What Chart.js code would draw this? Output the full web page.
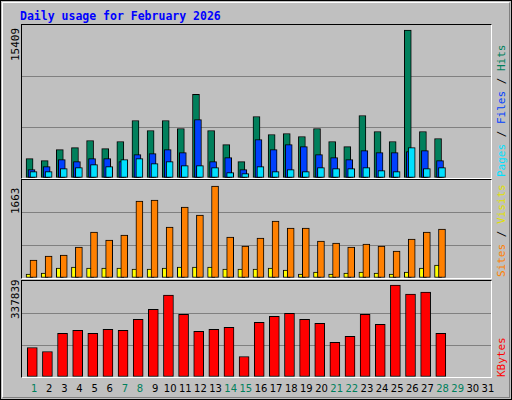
<!DOCTYPE html>
<html>
<head>
<meta charset="utf-8">
<script src="https://cdn.jsdelivr.net/npm/chart.js@4"></script>
<style>
  body { margin: 0; background: #fff; }
  #frame { position: absolute; left: 0; top: 0; width: 510px; height: 398px; background: #c0c0c0;
    border: 1px solid #000; font-family: "DejaVu Sans Mono", monospace; overflow: hidden; }
  #inner { position: absolute; left: 1px; top: 1px; width: 506px; height: 394px;
    border-top: 1px solid #fff; border-left: 1px solid #fff; border-right: 1px solid #808080; border-bottom: 1px solid #808080; }
  #title { position: absolute; left: 19px; top: 8px; font-size: 11.5px; font-weight: bold; color: #0000ff; }
  .panel { position: absolute; left: 20px; width: 469px; border-top: 1px solid #000; border-left: 1px solid #000;
    border-right: 1px solid #fff; border-bottom: 1px solid #fff; }
  .panel canvas { display: block; }
  .vt { position: absolute; white-space: nowrap; font-size: 11px; transform-origin: 0 0; transform: rotate(-90deg); }
  .day { position: absolute; top: 382px; font-size: 10px; font-family: "DejaVu Sans", sans-serif; width: 20px; text-align: center; }
</style>
</head>
<body>
<div id="frame"><div id="inner"></div>
  <div id="title">Daily usage for February 2026</div>
  <div class="panel" style="top:23px;height:153px"><canvas id="c1" width="469" height="153"></canvas></div>
  <div class="panel" style="top:178px;height:98px"><canvas id="c2" width="469" height="98"></canvas></div>
  <div class="panel" style="top:279px;height:96px"><canvas id="c3" width="469" height="96"></canvas></div>
  <div class="vt" style="left:8px;top:60px">15409</div>
  <div class="vt" style="left:8px;top:213px">1663</div>
  <div class="vt" style="left:8px;top:318px">337839</div>
  <div class="vt" style="left:494px;top:176px"><span style="color:#00e0ff">Pages</span> / <span style="color:#0040ff">Files</span> / <span style="color:#00805c">Hits</span></div>
  <div class="vt" style="left:494px;top:276px"><span style="color:#ff8000">Sites</span> / <span style="color:#e0e000">Visits</span></div>
  <div class="vt" style="left:494px;top:376px"><span style="color:#ff0000">KBytes</span></div>
  <div id="days"></div>
</div>
<script>
const days = Array.from({length: 31}, (_, i) => i + 1);
const weekendDays = [1, 7, 8, 14, 15, 21, 22, 28, 29];

const hits = [2022, 1813, 2963, 3172, 3905, 3068, 3800, 5996, 4950, 5996, 5160, 8715, 4950, 3486,
  1708, 6415, 4532, 4637, 4323, 5160, 3800, 3277, 6519, 4846, 3800, 15409, 4846, 4114];
const files = [872, 1185, 1917, 1708, 2022, 2022, 1708, 2440, 2545, 2963, 2650, 6101, 1708, 2127,
  872, 4009, 2963, 3486, 3277, 2440, 2127, 1917, 2859, 2650, 2650, 2754, 2859, 1813];
const pages = [662, 662, 976, 1081, 1394, 1185, 1917, 2022, 1499, 1708, 1290, 1290, 1081, 558,
  453, 1185, 662, 872, 662, 1081, 976, 976, 1081, 767, 662, 3172, 976, 1081];
const visits = [72, 90, 181, 199, 181, 181, 181, 163, 163, 181, 199, 199, 199, 163,
  163, 163, 181, 145, 72, 108, 72, 90, 108, 90, 72, 108, 181, 235];
const sites = [325, 398, 416, 560, 831, 687, 777, 1392, 1410, 922, 1283, 1139, 1663, 741,
  578, 723, 1030, 904, 904, 669, 633, 560, 615, 578, 488, 705, 831, 886];
const kbytes = [108502, 93707, 160288, 171385, 160288, 175084, 171385, 212073, 249062, 300847,
  230568, 167686, 175084, 182482, 75212, 200976, 223171, 234266, 212073, 197277, 126997, 149191,
  230568, 193578, 337839, 304546, 311944, 160288];

const ptsFrom = (vals, shift) => vals.map((v, i) => ({ x: days[i] + shift, y: v }));

function makeChart(id, datasets, maxVal, headroom) {
  const top = maxVal * headroom;
  new Chart(document.getElementById(id), {
    type: 'bar',
    data: { datasets: datasets },
    options: {
      responsive: false,
      animation: false,
      devicePixelRatio: 1,
      layout: { padding: 0 },
      plugins: { legend: { display: false }, tooltip: { enabled: false } },
      scales: {
        x: { type: 'linear', min: 0.5, max: 31.5, offset: false, display: false },
        y: {
          min: 0, max: top,
          afterBuildTicks: axis => { axis.ticks = [0, top / 3, top * 2 / 3, top].map(v => ({ value: v })); },
          ticks: { display: false },
          border: { display: false },
          grid: {
            drawTicks: false,
            color: ctx => (ctx.index === 1 || ctx.index === 2) ? '#808080' : 'rgba(0,0,0,0)'
          }
        }
      }
    }
  });
}

const bar = (label, data, color, width) => ({
  label: label, data: data, backgroundColor: color, borderColor: '#000', borderWidth: 1,
  borderSkipped: false, barThickness: width, grouped: false
});

// dataset 0 is drawn on top
makeChart('c1', [
  bar('Pages', ptsFrom(pages, 0.26), '#00e0ff', 7),
  bar('Files', ptsFrom(files, 0.13), '#0040ff', 7),
  bar('Hits', ptsFrom(hits, 0), '#00805c', 7)
], Math.max(...hits), 1.035);

makeChart('c2', [
  bar('Sites', ptsFrom(sites, 0.26), '#ff8000', 7),
  bar('Visits', ptsFrom(visits, 0), '#ffff00', 7)
], Math.max(...sites), 1.065);

makeChart('c3', [
  bar('KBytes', ptsFrom(kbytes, 0.18), '#ff0000', 10)
], Math.max(...kbytes), 1.044);

// day labels
const dayBox = document.getElementById('days');
days.forEach(d => {
  const el = document.createElement('div');
  el.className = 'day';
  el.textContent = d;
  el.style.left = (21 + (d - 0.5) * 469 / 31 + 4.5 - 10) + 'px';
  el.style.color = weekendDays.includes(d) ? '#00805c' : '#000';
  dayBox.appendChild(el);
});
</script>
</body>
</html>
